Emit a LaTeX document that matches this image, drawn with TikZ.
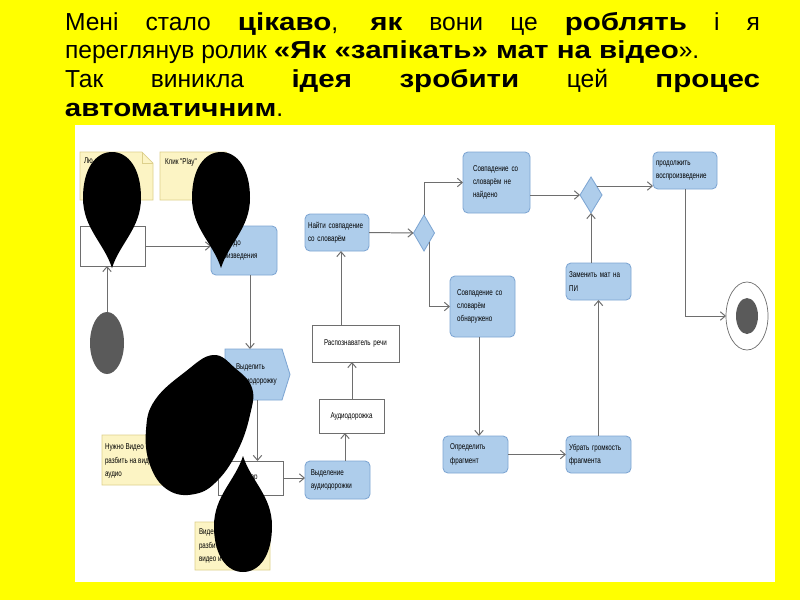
\documentclass[tikz,border=0pt]{standalone}
\usepackage{fontspec}
\setmainfont{Liberation Sans}[BoldFeatures={FakeStretch=1.2}]
\newfontfamily\diagfont[FakeStretch=0.74]{Liberation Sans}
\usetikzlibrary{shapes.geometric,arrows.meta,calc}
\definecolor{bgyellow}{HTML}{FFFF00}
\definecolor{nodeblue}{HTML}{AECDEB}
\definecolor{nodeborder}{HTML}{7EA6D3}
\definecolor{notefill}{HTML}{FCF4C4}
\definecolor{noteborder}{HTML}{DDD08C}
\definecolor{linegray}{HTML}{6E6E6E}
\definecolor{startgray}{HTML}{5A5A5A}
\newcommand\diagtext{\diagfont\fontsize{6}{9.5}\selectfont}
\newcommand\toptext{\fontsize{17.5}{20.4}\selectfont}
\newcommand\notebox[1]{%
  \filldraw[notestyle] (#1.north west) -- ($(#1.north east)+(-11,0)$) -- ($(#1.north east)+(0,11)$) -- (#1.south east) -- (#1.south west) -- cycle;
  \draw[noteborder,line width=0.5pt] ($(#1.north east)+(-11,0)$) -- ($(#1.north east)+(-11,11)$) -- ($(#1.north east)+(0,11)$);}
\tikzset{
  sz/.style 2 args={minimum width={#1*0.025cm}, minimum height={#2*0.025cm}, text width={(#1-6)*0.025cm}},
  act/.style={rectangle, rounded corners=3.5pt, draw=nodeborder, fill=nodeblue, line width=0.6pt, font=\diagtext, align=left},
  plainbox/.style={rectangle, draw=linegray, fill=white, line width=0.6pt, font=\diagtext, align=left},
  notestyle/.style={draw=noteborder, fill=notefill, line width=0.5pt},
  notetext/.style={font=\diagtext, align=left, anchor=north west},
  arr/.style={draw=linegray, line width=0.7pt, -{Straight Barb[length=3.5pt,width=6pt]}},
  decision/.style={diamond, draw=nodeborder, fill=nodeblue, line width=0.6pt, inner sep=0pt},
  blotpic/.pic={\fill[black] (0,0) .. controls (-8,-25) and (-29,-40) .. (-29,-70) .. controls (-29,-100) and (-16,-116) .. (0,-116) .. controls (16,-116) and (29,-100) .. (29,-70) .. controls (29,-40) and (8,-25) .. (0,0) -- cycle;}
}
\begin{document}
\begin{tikzpicture}[x=0.025cm,y=-0.025cm, every node/.style={inner sep=0pt, outer sep=0pt}]
\useasboundingbox (0,0) rectangle (800,600);
\fill[bgyellow] (0,0) rectangle (800,600);
\fill[white] (75,125) rectangle (775,582);

% title text
\node[anchor=north west, text width={695*0.025cm}, align=justify, font=\toptext] (title) at (65,12)
 {\parindent=0pt Мені стало \textbf{цікаво}, \textbf{як} вони це \textbf{роблять} і я\linebreak
  переглянув ролик \textbf{«Як «запікать» мат на відео}».\par
  Так виникла \textbf{ідея} \textbf{зробити} цей \textbf{процес}\linebreak
  \textbf{автоматичним}.};

% named x/y guides
\coordinate (xa) at (250,0);
\coordinate (xb) at (345,0);
\coordinate (xc) at (352,0);
\coordinate (xd) at (341,0);
\coordinate (xf) at (479,0);

% notes
\node[sz={73}{48}] (note1) at (116.5,176) {};
\notebox{note1}
\node[notetext] (note1t) at ($(note1.north west)+(4,6)$) {Лю};
\node[sz={77}{48}] (note2) at (198.5,176) {};
\notebox{note2}
\node[notetext] (note2t) at ($(note2.north west)+(5,6)$) {Клик "Play"};
\node[sz={68}{50}] (noteA) at (136,460) {};
\notebox{noteA}
\node[notetext] (noteAt) at ($(noteA.north west)+(3,9)$) {Нужно Видео\\разбить на видео и\\аудио};
\node[sz={75}{48}] (noteB) at (232.5,546) {};
\notebox{noteB}
\node[notetext] (noteBt) at ($(noteB.north west)+(4,7)$) {Видео\\разбить на\\видео и аудио};

% activity nodes
\node[plainbox, sz={65}{40}] (box0) at (112.5,246) {};
\node[act, sz={66}{49}] (play) at (244,250.5) {\hspace*{14pt}до\\\hspace*{2pt}произведения};
\node[sz={65}{51}, font=\diagtext, align=left] (extract) at (257.5,374.5) {};
\filldraw[draw=nodeborder, fill=nodeblue, line width=0.6pt] (extract.north west) -- ($(extract.north east)+(-8,0)$) -- (extract.east) -- ($(extract.south east)+(-8,0)$) -- (extract.south west) -- cycle;
\node[font=\diagtext, align=left, anchor=west] (extractt) at ($(extract.west)+(11,0)$) {Выделить\\аудиодорожку};
\node[plainbox, sz={65}{34}] (split) at (250.5,478) {\hspace*{21pt}ор};
\node[act, sz={65}{38}] (extractAudio) at (337.5,480) {\hspace*{2pt}Выделение\\\hspace*{2pt}аудиодорожки};
\node[plainbox, sz={65}{34}, align=center] (audio) at (351.5,416) {Аудиодорожка};
\node[plainbox, sz={87}{37}, align=center] (recog) at (355.5,343.5) {Распознаватель речи};
\node[act, sz={64}{37}] (find) at (337,232.5) {Найти совпадение\\со словарём};
\node[decision, minimum width={21*0.025cm}, minimum height={36*0.025cm}] (d1) at (424,233) {};
\node[act, sz={67}{61}] (notfound) at (496.5,182.5) {\hspace*{5pt}Совпадение со\\\hspace*{5pt}словарём не\\\hspace*{5pt}найдено};
\node[act, sz={65}{61}] (found) at (482.5,306.5) {\hspace*{3pt}Совпадение со\\\hspace*{3pt}словарём\\\hspace*{3pt}обнаружено};
\node[act, sz={65}{37}] (frag) at (475.5,454.5) {\hspace*{3pt}Определить\\\hspace*{3pt}фрагмент};
\node[act, sz={65}{37}] (mute) at (598.5,454.5) {Убрать громкость\\фрагмента};
\node[act, sz={65}{37}] (replace) at (598.5,281.5) {Заменить мат на\\ПИ};
\node[decision, minimum width={22*0.025cm}, minimum height={36*0.025cm}] (d2) at (591,195) {};
\node[act, sz={64}{37}] (cont) at (685,170.5) {продолжить\\воспроизведение};
\node[ellipse, fill=startgray, minimum width={34*0.025cm}, minimum height={62*0.025cm}] (start) at (107,343) {};
\node[ellipse, draw=linegray, fill=white, line width=0.5pt, minimum width={42*0.025cm}, minimum height={68*0.025cm}] (endo) at (747,316) {};
\node[ellipse, fill=startgray, minimum width={22*0.025cm}, minimum height={36*0.025cm}] (endi) at (747,316) {};

% connectors
\draw[arr] (start.north) -- (start.north |- box0.south);
\draw[arr] (box0.east) -- (box0.east -| play.west);
\draw[arr] (play.south -| xa) -- (extract.north -| xa);
\draw[arr] (extract.south) -- (extract.south |- split.north);
\draw[arr] (split.east) -- (split.east -| extractAudio.west);
\draw[arr] (extractAudio.north -| xb) -- (audio.south -| xb);
\draw[arr] (audio.north -| xc) -- (recog.south -| xc);
\draw[arr] (recog.north -| xd) -- (find.south -| xd);
\draw[arr] (find.east) -- (d1.west);
\draw[arr] (d1.north) |- (notfound.west);
\draw[arr] (d1.south east) |- (found.west);
\draw[arr] (found.south -| xf) -- (frag.north -| xf);
\draw[arr] (frag.east) -- (mute.west);
\draw[arr] (mute.north) -- (replace.south);
\draw[arr] (d2.south |- replace.north) -- (d2.south);
\draw[arr] (d2.west -| notfound.east) -- (d2.west);
\draw[arr] (d2.north east) -- (d2.north east -| cont.west);
\draw[arr] (cont.south) |- (endo.west);

% black blots
\pic at (112,268) {blotpic};
\pic at (221,268) {blotpic};
\pic[yscale=-1] at (243,456) {blotpic};
\fill[black] plot[smooth cycle, tension=0.7] coordinates {(213,355) (235,368) (252,388) (250,415) (238,450) (218,480) (195,494) (168,490) (150,465) (146,430) (155,400) (185,372)};
\end{tikzpicture}
\end{document}
